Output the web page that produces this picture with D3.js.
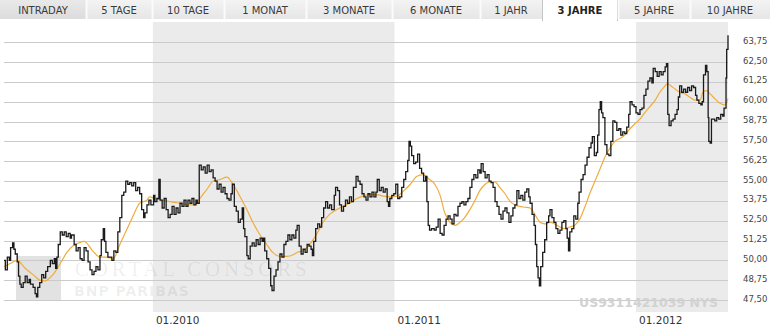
<!DOCTYPE html>
<html><head><meta charset="utf-8">
<script src="https://cdn.jsdelivr.net/npm/d3@7"></script>
<style>html,body{margin:0;padding:0;background:#fff;overflow:hidden}</style>
</head><body><svg id="c" width="770" height="334"></svg>
<script>
// ---------- data ----------
const tabLabels = ["INTRADAY","5 TAGE","10 TAGE","1 MONAT","3 MONATE","6 MONATE","1 JAHR","3 JAHRE","5 JAHRE","10 JAHRE"];
const selectedTab = "3 JAHRE";
const yTicks = [47.5,48.75,50,51.25,52.5,53.75,55,56.25,57.5,58.75,60,61.25,62.5,63.75];
const xTicks = ["2010-01-01","2011-01-01","2012-01-01"];
const dateRange = ["2009-05-21","2012-05-19"];
const shadedPeriods = [["2010-01-01","2011-01-01"],["2012-01-01","2012-05-19"]];
const isinLabel = "US9311421039 NYS";
const watermark1 = "CORTAL CONSORS";
const watermark2 = "BNP PARIBAS";

const priceDates = [
"2009-05-21","2009-05-23","2009-05-26","2009-05-29","2009-05-31","2009-06-03","2009-06-05","2009-06-07","2009-06-10","2009-06-12",
"2009-06-14","2009-06-16","2009-06-19","2009-06-22","2009-06-25","2009-06-28","2009-06-30","2009-07-04","2009-07-07","2009-07-09",
"2009-07-11","2009-07-14","2009-07-17","2009-07-20","2009-07-23","2009-07-26","2009-07-30","2009-08-02","2009-08-05","2009-08-07",
"2009-08-09","2009-08-11","2009-08-14","2009-08-17","2009-08-20","2009-08-23","2009-08-26","2009-08-29","2009-08-31","2009-09-04",
"2009-09-07","2009-09-10","2009-09-13","2009-09-16","2009-09-19","2009-09-22","2009-09-25","2009-09-28","2009-10-01","2009-10-04",
"2009-10-07","2009-10-10","2009-10-13","2009-10-15","2009-10-18","2009-10-20","2009-10-22","2009-10-25","2009-10-28","2009-10-31",
"2009-11-03","2009-11-06","2009-11-09","2009-11-12","2009-11-15","2009-11-18","2009-11-21","2009-11-24","2009-11-27","2009-11-30",
"2009-12-03","2009-12-06","2009-12-09","2009-12-12","2009-12-15","2009-12-18","2009-12-20","2009-12-23","2009-12-26","2009-12-29",
"2010-01-02","2010-01-04","2010-01-07","2010-01-10","2010-01-12","2010-01-15","2010-01-18","2010-01-21","2010-01-24","2010-01-27",
"2010-01-30","2010-02-02","2010-02-05","2010-02-08","2010-02-11","2010-02-14","2010-02-17","2010-02-20","2010-02-23","2010-02-26",
"2010-03-01","2010-03-04","2010-03-07","2010-03-09","2010-03-12","2010-03-15","2010-03-18","2010-03-21","2010-03-24","2010-03-27",
"2010-03-30","2010-04-02","2010-04-05","2010-04-08","2010-04-11","2010-04-14","2010-04-17","2010-04-20","2010-04-23","2010-04-26",
"2010-04-29","2010-05-01","2010-05-04","2010-05-07","2010-05-10","2010-05-13","2010-05-16","2010-05-18","2010-05-20","2010-05-23",
"2010-05-25","2010-05-28","2010-05-31","2010-06-03","2010-06-06","2010-06-09","2010-06-12","2010-06-15","2010-06-17","2010-06-19",
"2010-06-22","2010-06-25","2010-06-28","2010-06-30","2010-07-03","2010-07-06","2010-07-09","2010-07-12","2010-07-15","2010-07-18",
"2010-07-21","2010-07-24","2010-07-27","2010-07-30","2010-08-02","2010-08-05","2010-08-07","2010-08-10","2010-08-13","2010-08-16",
"2010-08-19","2010-08-22","2010-08-25","2010-08-28","2010-08-30","2010-09-01","2010-09-04","2010-09-07","2010-09-10","2010-09-13",
"2010-09-16","2010-09-19","2010-09-22","2010-09-25","2010-09-28","2010-10-02","2010-10-04","2010-10-07","2010-10-10","2010-10-13",
"2010-10-16","2010-10-19","2010-10-22","2010-10-25","2010-10-28","2010-10-31","2010-11-04","2010-11-07","2010-11-10","2010-11-13",
"2010-11-16","2010-11-19","2010-11-22","2010-11-25","2010-11-28","2010-12-01","2010-12-04","2010-12-06","2010-12-09","2010-12-12",
"2010-12-15","2010-12-18","2010-12-21","2010-12-23","2010-12-25","2010-12-28","2010-12-31","2011-01-03","2011-01-06","2011-01-09",
"2011-01-12","2011-01-15","2011-01-18","2011-01-21","2011-01-23","2011-01-25","2011-01-27","2011-01-30","2011-02-02","2011-02-05",
"2011-02-08","2011-02-11","2011-02-14","2011-02-17","2011-02-19","2011-02-21","2011-02-23","2011-02-26","2011-03-02","2011-03-05",
"2011-03-08","2011-03-11","2011-03-14","2011-03-17","2011-03-20","2011-03-23","2011-03-26","2011-03-29","2011-04-01","2011-04-04",
"2011-04-07","2011-04-10","2011-04-13","2011-04-16","2011-04-19","2011-04-22","2011-04-25","2011-04-28","2011-05-01","2011-05-04",
"2011-05-07","2011-05-10","2011-05-12","2011-05-15","2011-05-18","2011-05-21","2011-05-24","2011-05-27","2011-05-30","2011-06-02",
"2011-06-05","2011-06-08","2011-06-11","2011-06-14","2011-06-17","2011-06-20","2011-06-23","2011-06-26","2011-06-29","2011-07-02",
"2011-07-05","2011-07-08","2011-07-11","2011-07-14","2011-07-17","2011-07-20","2011-07-23","2011-07-25","2011-07-28","2011-07-31",
"2011-08-02","2011-08-04","2011-08-06","2011-08-08","2011-08-10","2011-08-13","2011-08-16","2011-08-19","2011-08-22","2011-08-24",
"2011-08-27","2011-08-30","2011-09-02","2011-09-05","2011-09-08","2011-09-11","2011-09-14","2011-09-17","2011-09-19","2011-09-21",
"2011-09-23","2011-09-26","2011-09-29","2011-10-02","2011-10-05","2011-10-07","2011-10-10","2011-10-13","2011-10-16","2011-10-19",
"2011-10-22","2011-10-25","2011-10-27","2011-10-30","2011-11-02","2011-11-04","2011-11-06","2011-11-08","2011-11-10","2011-11-12",
"2011-11-15","2011-11-18","2011-11-21","2011-11-24","2011-11-27","2011-11-30","2011-12-03","2011-12-06","2011-12-09","2011-12-12",
"2011-12-15","2011-12-18","2011-12-21","2011-12-23","2011-12-26","2011-12-29","2012-01-01","2012-01-04","2012-01-07","2012-01-10",
"2012-01-13","2012-01-16","2012-01-19","2012-01-22","2012-01-25","2012-01-27","2012-01-30","2012-02-02","2012-02-05","2012-02-08",
"2012-02-11","2012-02-14","2012-02-16","2012-02-18","2012-02-20","2012-02-23","2012-02-26","2012-02-29","2012-03-03","2012-03-05",
"2012-03-07","2012-03-10","2012-03-13","2012-03-16","2012-03-19","2012-03-22","2012-03-25","2012-03-28","2012-03-31","2012-04-02",
"2012-04-05","2012-04-08","2012-04-10","2012-04-12","2012-04-15","2012-04-17","2012-04-19","2012-04-20","2012-04-22","2012-04-24",
"2012-04-26","2012-04-29","2012-05-02","2012-05-05","2012-05-08","2012-05-11","2012-05-13","2012-05-16","2012-05-17","2012-05-19"
];
const priceValues = [
50.0,49.4,50.2,50.0,50.8,51.1,50.7,50.4,49.9,49.0,
48.5,48.3,48.6,49.0,48.6,48.8,48.5,48.3,47.9,47.7,
48.3,48.6,49.1,48.9,49.3,49.6,50.0,49.8,50.1,49.5,
50.2,51.0,51.8,51.6,51.8,51.5,51.7,51.4,51.6,51.0,
50.6,50.8,50.1,50.0,50.8,50.6,49.9,49.4,49.1,49.3,
49.6,49.4,50.3,51.3,52.0,51.2,50.5,50.2,50.2,50.0,
50.6,50.5,51.8,52.7,54.1,54.3,55.0,54.8,54.9,54.7,
54.9,54.4,54.6,54.2,53.2,52.7,53.0,53.5,53.8,53.5,
54.1,53.7,53.9,55.1,53.8,53.3,53.9,53.2,52.7,52.9,
53.4,52.9,53.3,53.0,53.6,53.4,53.8,53.4,53.8,53.6,
53.9,53.5,53.8,53.6,56.0,55.7,55.9,55.5,56.0,55.6,
55.7,55.2,55.0,54.5,54.8,54.3,54.6,54.2,53.9,53.8,
54.2,54.8,53.4,53.1,52.4,52.6,53.3,52.0,51.5,50.3,
50.1,50.9,51.1,50.9,51.3,51.0,51.4,51.2,51.4,50.6,
50.1,49.5,48.4,48.1,49.0,49.4,49.9,50.4,50.2,51.0,
51.2,51.6,51.3,51.6,51.4,51.9,52.2,50.9,50.4,50.7,
50.5,51.0,50.9,50.7,50.3,51.2,52.0,52.3,52.1,52.7,
53.3,53.7,53.3,53.5,53.2,54.1,54.6,54.4,53.5,53.1,
53.4,53.8,53.6,54.0,53.7,54.6,55.3,55.0,54.8,54.2,
54.0,53.8,54.2,54.0,54.3,54.0,54.3,55.1,54.4,54.6,
54.3,54.5,53.7,53.4,53.9,54.1,54.2,54.8,53.9,54.0,
54.6,55.1,55.6,56.3,57.5,57.2,56.6,56.1,56.2,56.7,
55.8,55.5,55.0,55.3,53.7,52.2,51.9,52.0,51.9,52.1,
52.6,51.7,51.6,52.2,52.6,52.8,52.6,52.3,52.9,52.8,
53.4,53.6,53.7,53.5,53.7,53.9,54.6,55.1,55.4,55.2,
55.7,55.5,56.1,55.6,55.2,55.4,55.0,54.9,54.6,53.7,
53.4,52.9,52.6,53.1,53.3,53.0,52.4,52.8,53.3,53.5,
54.4,53.9,54.1,53.8,54.3,54.5,54.0,53.6,52.9,52.2,
51.0,49.6,48.9,48.4,49.6,50.5,51.3,52.4,52.8,53.2,
52.7,52.4,52.0,51.7,51.9,52.4,52.5,52.0,51.4,50.6,
51.8,52.0,52.8,52.6,53.6,54.3,55.1,55.4,56.0,56.5,
57.1,57.4,57.8,56.6,56.8,57.9,59.5,60.0,59.3,59.0,
57.3,56.7,56.6,57.5,58.8,58.7,58.2,58.3,57.9,58.1,
58.0,58.4,59.2,60.0,59.8,59.7,59.3,59.2,59.5,59.6,
60.4,60.8,61.3,61.5,61.2,62.1,61.9,61.6,61.9,61.7,
61.9,62.2,62.4,59.2,58.5,58.8,58.9,59.2,59.5,60.3,
61.0,60.6,60.8,60.6,60.9,60.7,61.0,60.9,60.4,60.1,
59.9,59.8,60.0,61.7,62.3,61.9,59.0,57.5,57.4,58.9,
58.9,58.8,59.0,58.9,59.2,59.1,59.6,61.5,63.3,64.2
];

const maDates = [
"2009-05-21","2009-06-02","2009-06-10","2009-06-22","2009-07-04","2009-07-14","2009-07-21","2009-08-03","2009-08-14","2009-08-24",
"2009-09-02","2009-09-11","2009-09-19","2009-10-02","2009-10-13","2009-10-23","2009-11-02","2009-11-12","2009-11-22","2009-12-02",
"2009-12-12","2009-12-23","2009-12-27","2010-01-04","2010-01-15","2010-01-27","2010-02-11","2010-02-26","2010-03-06","2010-03-13",
"2010-03-24","2010-04-02","2010-04-12","2010-04-23","2010-05-02","2010-05-13","2010-05-23","2010-06-01","2010-06-12","2010-06-22",
"2010-07-01","2010-07-12","2010-07-22","2010-08-01","2010-08-07","2010-08-16","2010-08-26","2010-09-06","2010-09-15","2010-09-25",
"2010-10-06","2010-10-15","2010-10-25","2010-11-05","2010-11-14","2010-11-25","2010-12-05","2010-12-15","2010-12-25","2011-01-05",
"2011-01-14","2011-01-25","2011-02-04","2011-02-13","2011-02-23","2011-03-03","2011-03-11","2011-03-18","2011-03-26","2011-04-03",
"2011-04-10","2011-04-17","2011-04-25","2011-05-03","2011-05-10","2011-05-18","2011-05-25","2011-06-02","2011-06-09","2011-06-17",
"2011-06-25","2011-07-02","2011-07-09","2011-07-17","2011-07-25","2011-08-01","2011-08-09","2011-08-16","2011-08-24","2011-08-31",
"2011-09-08","2011-09-15","2011-09-23","2011-09-30","2011-10-08","2011-10-16","2011-10-23","2011-10-31","2011-11-08","2011-11-15",
"2011-11-23","2011-11-30","2011-12-08","2011-12-15","2011-12-23","2011-12-30","2012-01-07","2012-01-14","2012-01-22","2012-01-30",
"2012-02-06","2012-02-14","2012-02-17","2012-02-23","2012-02-29","2012-03-07","2012-03-15","2012-03-22","2012-03-30","2012-04-07",
"2012-04-11","2012-04-16","2012-04-22","2012-04-29","2012-05-07","2012-05-14","2012-05-19"
];
const maValues = [
49.6,49.85,50.0,49.5,49.1,48.75,48.7,49.1,49.8,50.5,
50.9,51.1,51.2,50.6,50.2,50.2,50.1,51.0,51.9,52.8,
53.6,53.8,54.0,53.9,53.8,53.7,53.6,53.5,53.5,53.9,
54.5,55.0,55.1,55.25,54.8,54.0,53.2,52.4,51.6,51.0,
50.5,50.25,50.25,50.35,50.5,50.6,51.0,51.7,52.4,52.9,
53.2,53.4,53.6,53.9,54.05,54.15,54.15,54.05,54.0,54.05,
54.35,54.8,55.3,55.4,55.1,54.8,54.1,53.0,52.4,52.2,
52.4,52.7,53.2,53.8,54.4,54.8,54.95,54.95,54.6,54.2,
53.7,53.5,53.4,53.35,53.3,52.9,52.4,52.3,52.4,52.3,
52.1,52.0,52.1,52.2,52.6,53.4,54.2,55.0,55.8,56.5,
57.1,57.5,57.7,57.9,58.3,58.6,58.9,59.3,59.7,60.1,
60.6,61.0,61.15,61.0,60.8,60.6,60.5,60.3,60.1,60.1,
60.6,60.7,60.5,60.2,59.9,59.8,60.2
];

// ---------- drawing ----------
const W = 770, H = 334;
const svg = d3.select("#c");
const parse = d3.timeParse("%Y-%m-%d");
const deLocale = d3.formatLocale({decimal: ",", thousands: ".", grouping: [3], currency: ["", " €"]});
const fmtY = deLocale.format(".2f");
const fmtX = d3.timeFormat("%m.%Y");

const plot = {left: 4, right: 728, top: 22, bottom: 312};
const x = d3.scaleTime().domain(dateRange.map(parse)).range([plot.left, plot.right]);
const y = d3.scaleLinear().domain([47.5, 63.75]).range([300, 42.3]);

svg.append("rect").attr("width", W).attr("height", H).attr("fill", "#fff");

// tabs
const tabEdges = [0, 86, 152, 224, 306, 392, 480, 542, 618, 690, 770];
const defs = svg.append("defs");
const grad = defs.append("linearGradient").attr("id", "tabg").attr("x1", 0).attr("x2", 0).attr("y1", 0).attr("y2", 1);
grad.append("stop").attr("offset", "0%").attr("stop-color", "#f3f3f3");
grad.append("stop").attr("offset", "100%").attr("stop-color", "#e6e6e6");
const grad2 = defs.append("linearGradient").attr("id", "tabg2").attr("x1", 0).attr("x2", 0).attr("y1", 0).attr("y2", 1);
grad2.append("stop").attr("offset", "0%").attr("stop-color", "#e9e9e9");
grad2.append("stop").attr("offset", "100%").attr("stop-color", "#dcdcdc");

const tabG = svg.append("g");
tabLabels.forEach((t, i) => {
  const x0 = tabEdges[i], x1 = tabEdges[i + 1];
  const sel = t === selectedTab;
  tabG.append("rect").attr("x", x0).attr("y", 0).attr("width", x1 - x0).attr("height", sel ? 21 : 19)
    .attr("fill", sel ? "#fff" : (i === 0 ? "url(#tabg2)" : "url(#tabg)"));
  if (i > 0) {
    tabG.append("line").attr("x1", x0 + 0.5).attr("x2", x0 + 0.5).attr("y1", 0).attr("y2", sel ? 21 : 19)
      .attr("stroke", sel ? "#c4c4c4" : "#fbfbfb").attr("stroke-width", sel ? 1 : 2);
  }
  if (sel) {
    tabG.append("line").attr("x1", x1 - 0.5).attr("x2", x1 - 0.5).attr("y1", 0).attr("y2", 21)
      .attr("stroke", "#c4c4c4");
  }
  tabG.append("text").attr("x", (x0 + x1) / 2).attr("y", 13.5).attr("text-anchor", "middle")
    .attr("font-family", "DejaVu Sans, Verdana, sans-serif").attr("font-size", 10)
    .attr("font-weight", sel ? "bold" : "normal").attr("fill", sel ? "#222" : "#3a3a3a").text(t);
});

// shaded periods
svg.append("g").selectAll("rect").data(shadedPeriods).join("rect")
  .attr("x", d => x(parse(d[0]))).attr("y", plot.top)
  .attr("width", d => x(parse(d[1])) - x(parse(d[0])))
  .attr("height", plot.bottom - plot.top).attr("fill", "#ebebeb");

// watermark logo square
svg.append("rect").attr("x", 16).attr("y", 256).attr("width", 45).attr("height", 44).attr("fill", "#e2e2e2");

// grid lines
svg.append("g").selectAll("line").data(yTicks).join("line")
  .attr("x1", plot.left).attr("x2", plot.right)
  .attr("y1", d => Math.round(y(d)) + 0.5).attr("y2", d => Math.round(y(d)) + 0.5)
  .attr("stroke", "#cbcbcb").attr("stroke-width", 1);

// watermark texts
svg.append("text").attr("x", 75).attr("y", 276).attr("font-family", "Liberation Serif, serif")
  .attr("font-size", 21).attr("letter-spacing", 3.8).attr("fill", "#000").attr("fill-opacity", 0.08).text(watermark1);
svg.append("text").attr("x", 74).attr("y", 296).attr("font-family", "DejaVu Sans, sans-serif").attr("font-weight", "bold")
  .attr("font-size", 14).attr("letter-spacing", 1).attr("fill", "#000").attr("fill-opacity", 0.08).text(watermark2);
svg.append("text").attr("x", 718).attr("y", 307).attr("text-anchor", "end").attr("font-family", "DejaVu Sans, sans-serif")
  .attr("font-weight", "bold").attr("font-size", 12.5).attr("fill", "#d2d2d2").text(isinLabel);

// moving average
const maData = maDates.map((d, i) => ({date: parse(d), v: maValues[i]}));
svg.append("path").datum(maData)
  .attr("d", d3.line().x(d => x(d.date)).y(d => y(d.v)).curve(d3.curveMonotoneX))
  .attr("fill", "none").attr("stroke", "#f0ac3c").attr("stroke-width", 1.2);

// price line
const priceData = priceDates.map((d, i) => ({date: parse(d), v: priceValues[i]}));
svg.append("path").datum(priceData)
  .attr("d", d3.line().x(d => x(d.date)).y(d => y(d.v)).curve(d3.curveStepAfter))
  .attr("fill", "none").attr("stroke", "#1a1a1a").attr("stroke-width", 1.3).attr("stroke-linejoin", "miter");

// y labels
svg.append("g").selectAll("text").data(yTicks).join("text")
  .attr("x", 743).attr("y", d => y(d) + 1.5)
  .attr("font-family", "DejaVu Sans, Verdana, sans-serif").attr("font-size", 8.5).attr("fill", "#444")
  .text(d => fmtY(d));

// x labels
svg.append("g").selectAll("text").data(xTicks).join("text")
  .attr("x", d => x(parse(d)) + 3).attr("y", 324)
  .attr("font-family", "DejaVu Sans, Verdana, sans-serif").attr("font-size", 10.5).attr("fill", "#333")
  .text(d => fmtX(parse(d)));
</script></body></html>
